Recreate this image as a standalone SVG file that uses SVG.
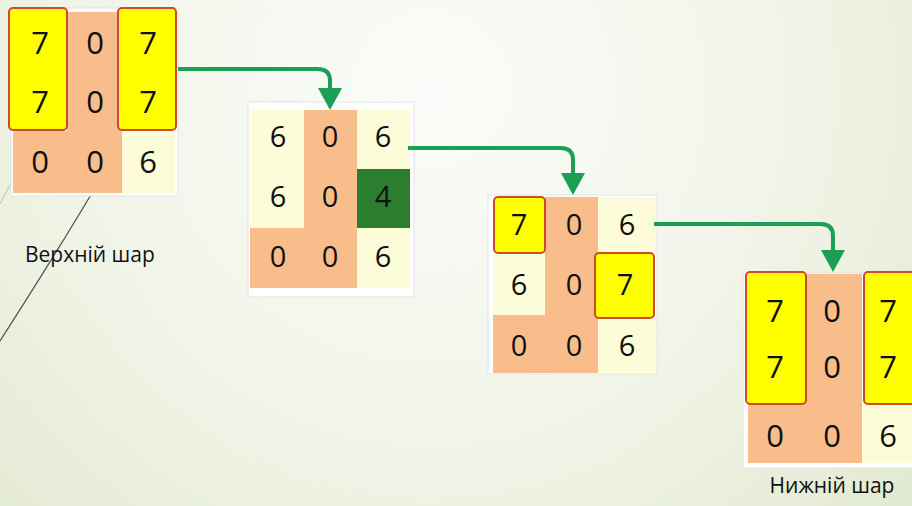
<svg xmlns="http://www.w3.org/2000/svg" width="912" height="506" viewBox="0 0 912 506">
<defs>
<radialGradient id="bg" cx="430" cy="90" r="620" gradientUnits="userSpaceOnUse">
<stop offset="0" stop-color="#fbfcf9"/>
<stop offset="0.55" stop-color="#f1f5e9"/>
<stop offset="1" stop-color="#e3ead2"/>
</radialGradient>
<marker id="ah" viewBox="0 0 22 24" markerWidth="22" markerHeight="24" refX="12" refY="12" orient="auto" markerUnits="userSpaceOnUse">
<path d="M0 0 L22 12 L0 24 Z" fill="#1a9f55"/>
</marker>
</defs>
<style>
.frame{fill:#ffffff;stroke:#e2e2e2;stroke-width:1}
.y{fill:#ffff00}
.o{fill:#f9bd8b}
.c{fill:#fdfcd8}
.g{fill:#2b7d2f}
.box{fill:#ffff00;stroke:#d2482c;stroke-width:2}
.d{font-family:"Open Sans","Liberation Sans",sans-serif;fill:#111;text-anchor:middle}
.lbl{font-family:"Open Sans","Liberation Sans",sans-serif;font-size:21px;fill:#111}
.conn{fill:none;stroke:#1a9f55;stroke-width:4;stroke-linejoin:round}
</style>
<rect width="912" height="506" fill="url(#bg)"/>
<path d="M20 166 L0 204" stroke="#b9bdb0" stroke-width="1" fill="none"/>
<path d="M92 193 Q55 255 0 341" stroke="#555" stroke-width="1.3" fill="none"/>

<g id="grid1">
<rect class="frame" x="11" y="8" width="167" height="188"/>
<rect class="o" x="67" y="12" width="55" height="181"/>
<rect class="o" x="13" y="131" width="54" height="62"/>
<rect class="c" x="122" y="131" width="53" height="62"/>
<rect class="box" x="9" y="8" width="58" height="122" rx="4"/>
<rect class="box" x="118" y="8" width="58" height="122" rx="4"/>
<g class="d" font-size="31">
<text x="40" y="54">7</text><text x="95" y="54">0</text><text x="148" y="54">7</text>
<text x="40" y="113">7</text><text x="95" y="113">0</text><text x="148" y="113">7</text>
<text x="40" y="173">0</text><text x="95" y="173">0</text><text x="148" y="173">6</text>
</g>
</g>

<g id="grid2">
<rect class="frame" x="248" y="102" width="166" height="195"/>
<rect class="c" x="250" y="110" width="54" height="118"/>
<rect class="o" x="304" y="110" width="53" height="178"/>
<rect class="o" x="250" y="228" width="54" height="60"/>
<rect class="c" x="357" y="110" width="53" height="59"/>
<rect class="g" x="357" y="169" width="53" height="59"/>
<rect class="c" x="357" y="228" width="53" height="60"/>
<g class="d" font-size="29">
<text x="278" y="147">6</text><text x="330" y="147">0</text><text x="383" y="147">6</text>
<text x="278" y="207">6</text><text x="330" y="207">0</text><text x="383" y="207">4</text>
<text x="278" y="267">0</text><text x="330" y="267">0</text><text x="383" y="267">6</text>
</g>
</g>

<g id="grid3">
<rect class="frame" x="488" y="195" width="169" height="179"/>
<rect class="o" x="545" y="197" width="53" height="176"/>
<rect class="c" x="598" y="197" width="58" height="56"/>
<rect class="c" x="493" y="253" width="52" height="62"/>
<rect class="o" x="493" y="315" width="52" height="58"/>
<rect class="c" x="598" y="318" width="58" height="55"/>
<rect class="box" x="494" y="197" width="51" height="56" rx="4"/>
<rect class="box" x="595" y="253" width="59" height="65" rx="4"/>
<g class="d" font-size="29">
<text x="519" y="235">7</text><text x="574" y="235">0</text><text x="627" y="235">6</text>
<text x="519" y="295">6</text><text x="574" y="295">0</text><text x="625" y="295">7</text>
<text x="519" y="356">0</text><text x="574" y="356">0</text><text x="627" y="356">6</text>
</g>
</g>

<g id="grid4">
<rect class="frame" x="743" y="273" width="180" height="195"/>
<rect class="o" x="805" y="274" width="57" height="189"/>
<rect class="o" x="748" y="403" width="57" height="60"/>
<rect class="c" x="862" y="403" width="60" height="60"/>
<rect class="box" x="746" y="272" width="60" height="132" rx="4"/>
<rect class="box" x="864" y="272" width="60" height="132" rx="4"/>
<g class="d" font-size="31">
<text x="775" y="322">7</text><text x="832" y="322">0</text><text x="888" y="322">7</text>
<text x="775" y="378">7</text><text x="832" y="378">0</text><text x="888" y="378">7</text>
<text x="775" y="447">0</text><text x="832" y="447">0</text><text x="888" y="447">6</text>
</g>
</g>

<g id="label-top"><text class="lbl" x="25" y="262">Верхній шар</text></g>
<g id="label-bottom"><text class="lbl" x="832" y="493" text-anchor="middle">Нижній шар</text></g>

<g id="connectors">
<path class="conn" d="M178 69 L318 69 Q330 69 330 81 L330 100" marker-end="url(#ah)"/>
<path class="conn" d="M408 148 L561 148 Q573 148 573 160 L573 185" marker-end="url(#ah)"/>
<path class="conn" d="M654 224 L821 224 Q833 224 833 236 L833 262" marker-end="url(#ah)"/>
</g>
</svg>
